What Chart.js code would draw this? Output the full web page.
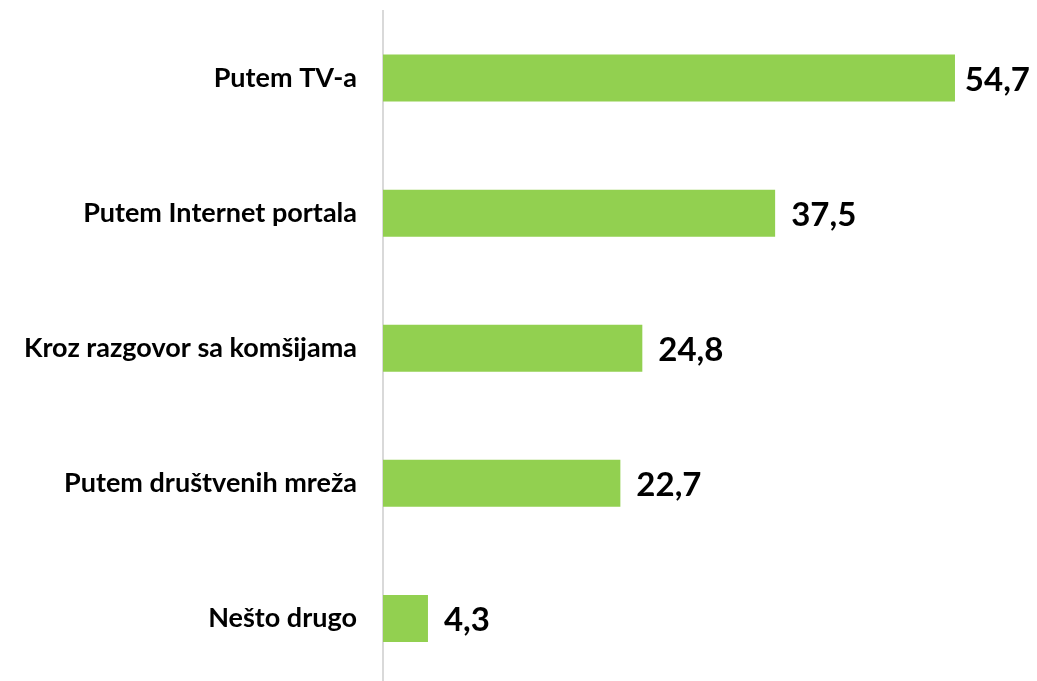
<!DOCTYPE html>
<html>
<head>
<meta charset="utf-8">
<script src="https://cdn.jsdelivr.net/npm/chart.js@4"></script>
<style>
html,body{margin:0;padding:0;background:#fff;overflow:hidden;}
#wrap{position:relative;width:1037px;height:686px;}
</style>
</head>
<body>
<div id="wrap"><canvas id="c"></canvas></div>
<script>
const categories = ["Putem TV-a", "Putem Internet portala", "Kroz razgovor sa komšijama", "Putem društvenih mreža", "Nešto drugo"];
const values = [54.7, 37.5, 24.8, 22.7, 4.3];
const valueLabels = ["54,7", "37,5", "24,8", "22,7", "4,3"];

const FONT = "Lato, 'Open Sans', sans-serif";

const valuePlugin = {
  id: 'valueLabels',
  afterDatasetsDraw(chart) {
    const ctx = chart.ctx;
    const meta = chart.getDatasetMeta(0);
    ctx.save();
    ctx.font = "bold 33px " + FONT;
    ctx.fillStyle = "#000";
    ctx.textAlign = "left";
    ctx.textBaseline = "middle";
    meta.data.forEach((bar, i) => {
      const w = ctx.measureText(valueLabels[i]).width;
      let x = bar.x + 16;
      const maxX = chart.width - 7 - w;
      if (x > maxX) x = Math.max(bar.x + 9, maxX);
      ctx.fillText(valueLabels[i], x, bar.y + 2);
    });
    ctx.restore();
  }
};

new Chart(document.getElementById('c'), {
  type: 'bar',
  data: {
    labels: categories,
    datasets: [{
      data: values,
      backgroundColor: '#92D050',
      borderWidth: 0,
      categoryPercentage: 1,
      barPercentage: 0.348
    }]
  },
  options: {
    indexAxis: 'y',
    responsive: true,
    maintainAspectRatio: false,
    animation: false,
    layout: { padding: { top: 10.5, right: 26.6, left: 0, bottom: 0 } },
    plugins: { legend: { display: false }, tooltip: { enabled: false } },
    scales: {
      x: { display: false, min: 0, max: 60 },
      y: {
        grid: { display: false },
        border: { display: true, color: '#d9d9d9', width: 2 },
        ticks: { color: '#000', padding: 18, font: { family: FONT, size: 27, weight: 'bold' } },
        afterFit(scale) { scale.width = 383; scale.paddingTop = 0; scale.paddingBottom = 0; }
      }
    }
  },
  plugins: [valuePlugin]
});
</script>
</body>
</html>
